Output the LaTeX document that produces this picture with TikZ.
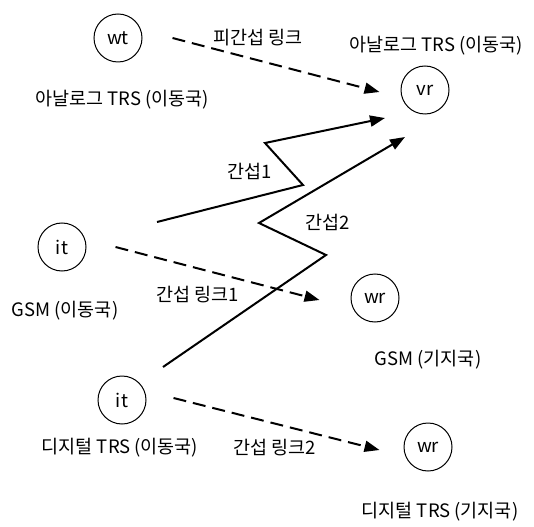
\documentclass[tikz,border=0pt]{standalone}
\usepackage{fontspec}
\setmainfont{Noto Sans CJK KR}
\usetikzlibrary{arrows.meta}
\tikzset{
    station/.style={draw, circle, minimum size=48pt, inner sep=0pt, line width=1pt},
    lbl/.style={inner sep=0pt},
    link/.style={dashed, dash pattern=on 13pt off 7pt, line width=2pt, -{Triangle[length=15pt,width=11pt]}},
    jam/.style={line width=2pt, -{Triangle[length=15pt,width=11pt]}}
}
\begin{document}
\begin{tikzpicture}[x=1pt, y=-1pt, font=\fontsize{18.5}{20}\selectfont]
        \useasboundingbox (0,0) rectangle (534,526);
            \node[station] (wt) at (118,38) {wt};
            \node[station] (vr) at (425,90) {vr};
            \node[station] (it1) at (62,247) {it};
            \node[station] (wr1) at (375,298) {wr};
            \node[station] (it2) at (122,400) {it};
            \node[station] (wr2) at (428,447) {wr};

            \node[lbl] (l1) at (258,38) {피간섭 링크};
            \node[lbl] (l2) at (436,46) {아날로그 TRS (이동국)};
            \node[lbl] (l3) at (122,100) {아날로그 TRS (이동국)};
            \node[lbl] (l4) at (250,171) {간섭1};
            \node[lbl] (l5) at (328,222) {간섭2};
            \node[lbl] (l6) at (198,295) {간섭 링크1};
            \node[lbl] (l7) at (65,311) {GSM (이동국)};
            \node[lbl] (l8) at (428,360) {GSM (기지국)};
            \node[lbl] (l9) at (120,448) {디지털 TRS (이동국)};
            \node[lbl] (l10) at (275,448) {간섭 링크2};
            \node[lbl] (l11) at (440,512) {디지털 TRS (기지국)};

            \draw[link] ([xshift=30pt]wt.east) -- ([xshift=-21pt,yshift=-2pt]vr.west);
            \draw[link] ([xshift=29pt]it1.east) -- ([xshift=-31pt,yshift=-2pt]wr1.west);
            \draw[link] ([xshift=27pt,yshift=2pt]it2.east) -- ([xshift=-24pt,yshift=-3pt]wr2.west);

            \coordinate (a0) at (157,222);
            \coordinate (a1) at (303,185);
            \coordinate (a2) at (265,143);
            \coordinate (a3) at (385,118);
            \coordinate (b0) at (163,367);
            \coordinate (b1) at (326,255);
            \coordinate (b2) at (259,223);
            \coordinate (b3) at (405,137);
            \foreach \z in {a,b}
            {
                \draw[jam] (\z0) -- (\z1) -- (\z2) -- (\z3);
            }
        \end{tikzpicture}
\end{document}
